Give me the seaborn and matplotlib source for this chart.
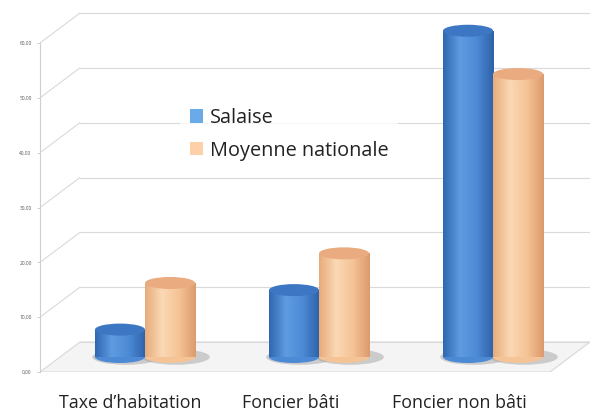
import numpy as np
import pandas as pd
import matplotlib
matplotlib.use("Agg")
import matplotlib.pyplot as plt
import matplotlib.transforms as mtransforms
from matplotlib.patches import Ellipse, Polygon, Patch
from matplotlib.colors import LinearSegmentedColormap
import seaborn as sns

categories = ["Taxe d\u2019habitation", "Foncier bâti", "Foncier non bâti"]
series = ["Salaise", "Moyenne nationale"]
salaise = [5.0, 12.2, 59.5]
moyenne = [13.5, 18.9, 51.6]
yticks = [0, 10, 20, 30, 40, 50, 60]

df = pd.DataFrame({
    "cat": categories * 2,
    "serie": [series[0]] * 3 + [series[1]] * 3,
    "val": salaise + moyenne,
})

sns.set_theme(style="white")
plt.rcParams["font.family"] = ["Open Sans", "DejaVu Sans"]

fig = plt.figure(figsize=(6.09, 4.13), dpi=100)
W, H = 609, 413
ax_left, ax_right, ax_bottom, ax_top = 40, 590, 372, 12
ax = fig.add_axes([ax_left / W, (H - ax_bottom) / H, (ax_right - ax_left) / W, (ax_bottom - ax_top) / H])

px_per_unit = (372 - 43) / 60.0
ymax = (ax_bottom - ax_top) / px_per_unit
cat_px = 174.0
x0 = -(125 - ax_left) / cat_px
x1 = 2 + (ax_right - 473) / cat_px

side_cols = {"Salaise": "#4a86d2", "Moyenne nationale": "#f7c59a"}
sns.barplot(data=df, x="cat", y="val", hue="serie", order=categories, hue_order=series,
            palette=side_cols, width=0.575, legend=False, ax=ax, saturation=1, zorder=3)
bars = list(ax.patches)
ax.set_xlim(x0, x1)
ax.set_ylim(0, ymax)

depth_dx, depth_dy = 40, 30  # px
ax_w_px = ax_right - ax_left
dxf = depth_dx / ax_w_px
dyd = depth_dy / px_per_unit
blend = mtransforms.blended_transform_factory(ax.transAxes, ax.transData)

floor = Polygon([(0, 0), (1 - dxf, 0), (1, dyd), (dxf, dyd)], closed=True,
                transform=blend, facecolor="#f4f4f4", edgecolor="#d8d8d8", lw=0.8, zorder=1)
ax.add_patch(floor)
for t in yticks:
    if t > 0:
        ax.plot([0, dxf], [t, t + dyd], transform=blend, color="#d9d9d9", lw=0.8, zorder=1)
    ax.plot([dxf, 1], [t + dyd, t + dyd], transform=blend, color="#d9d9d9", lw=0.8, zorder=1)

off = ax.transData + mtransforms.ScaledTranslation(depth_dx / 2 / 100, depth_dy / 2 / 100, fig.dpi_scale_trans)
ell_h = 12 / px_per_unit

grad_cols = {
    "Salaise": ["#3068b2", "#5e9be0", "#4d8ad6", "#2e62a8"],
    "Moyenne nationale": ["#e7ac7c", "#fbd8b4", "#f5c496", "#dc9b6e"],
}
top_cols = {"Salaise": "#3d76c2", "Moyenne nationale": "#eaab80"}

for i, b in enumerate(bars):
    s = series[i // 3]
    bx, bw, bh = b.get_x(), b.get_width(), b.get_height()
    cx = bx + bw / 2
    sh = Ellipse((cx + bw * 0.12, 0), bw * 1.35, ell_h * 1.3, transform=off,
                 facecolor="#9a9a9a", alpha=0.45, edgecolor="none", zorder=2)
    ax.add_patch(sh)
    b.set_transform(off)
    b.set_zorder(3)
    b.set_edgecolor("none")
    bot = Ellipse((cx, 0), bw, ell_h, transform=off, facecolor=grad_cols[s][2], edgecolor="none", zorder=3)
    ax.add_patch(bot)
    cmap = LinearSegmentedColormap.from_list("g" + s, grad_cols[s])
    grad = np.linspace(0, 1, 64).reshape(1, -1)
    im = ax.imshow(grad, cmap=cmap, extent=[bx, bx + bw, 0, bh], aspect="auto",
                   transform=off, zorder=3.1, interpolation="bicubic")
    im.set_clip_path(b)
    top = Ellipse((cx, bh), bw, ell_h, transform=off, facecolor=top_cols[s], edgecolor="none", zorder=3.2)
    ax.add_patch(top)

ax.set_xlim(x0, x1)
ax.set_ylim(0, ymax)

for sp in ["top", "right", "bottom"]:
    ax.spines[sp].set_visible(False)
ax.spines["left"].set_bounds(0, 60)
ax.spines["left"].set_color("#cfcfcf")
ax.spines["left"].set_linewidth(0.8)
ax.set_yticks(yticks)
ax.set_yticklabels([f"{v:.2f}".replace(".", ",") for v in yticks], fontsize=3.5, color="#555555")
ax.tick_params(axis="y", length=2, width=0.5, color="#bbbbbb", pad=4, left=True)
ax.tick_params(axis="x", length=0, pad=16, labelsize=12.8, labelcolor="#222222")
label_shift = [5, -8, -14]
for lab, sx in zip(ax.get_xticklabels(), label_shift):
    lab.set_transform(lab.get_transform() + mtransforms.ScaledTranslation(sx / 100, 0, fig.dpi_scale_trans))
ax.set_xlabel("")
ax.set_ylabel("")

handles = [Patch(facecolor="#6aaae8", edgecolor="none"), Patch(facecolor="#fdd0a8", edgecolor="none")]
leg = ax.legend(handles, series, loc="upper left", bbox_to_anchor=(170 / W, 1 - 88 / H),
                bbox_transform=fig.transFigure, fontsize=14.3, frameon=True, fancybox=False,
                handlelength=0.65, handleheight=0.65, handletextpad=0.35, labelspacing=0.65,
                borderpad=0.5)
leg.get_frame().set_facecolor("white")
leg.get_frame().set_edgecolor("none")
leg.set_zorder(5)
for t in leg.get_texts():
    t.set_color("#222222")

fig.savefig("out.png", dpi=100, facecolor="white")
